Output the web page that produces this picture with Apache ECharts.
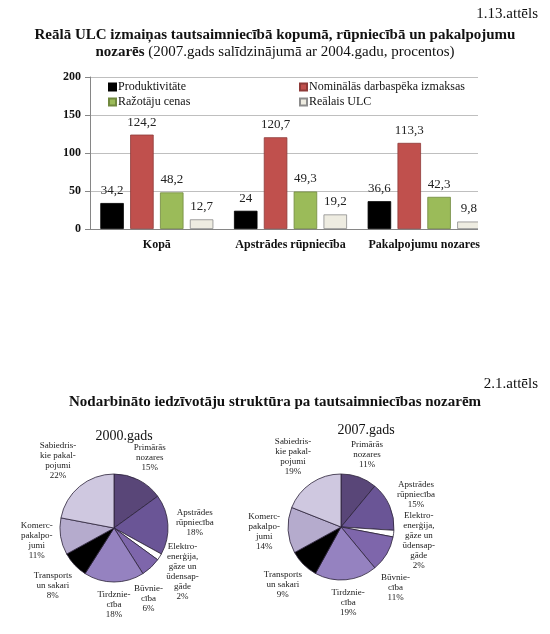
<!DOCTYPE html>
<html><head><meta charset="utf-8">
<script src="https://cdn.jsdelivr.net/npm/echarts@6/dist/echarts.min.js"></script>
<style>html,body{margin:0;padding:0;background:#fff}#c{width:550px;height:634px}</style>
</head><body><div id="c"></div>
<script>
const categories = ['Kopā', 'Apstrādes rūpniecība', 'Pakalpojumu nozares'];
const seriesNames = ['Produktivitāte', 'Nominālās darbaspēka izmaksas', 'Ražotāju cenas', 'Reālais ULC'];
const productivity = [34.2, 24, 36.6];
const nominalWages = [124.2, 120.7, 113.3];
const producerPrices = [48.2, 49.3, 42.3];
const realULC = [12.7, 19.2, 9.8];
const yMin = 0, yMax = 200, yStep = 50;
const sectorLabels = [
  'Primārās\nnozares',
  'Apstrādes\nrūpniecība',
  'Elektro-\nenerģija,\ngāze un\nūdensap-\ngāde',
  'Būvnie-\ncība',
  'Tirdznie-\ncība',
  'Transports\nun sakari',
  'Komerc-\npakalpo-\njumi',
  'Sabiedris-\nkie pakal-\npojumi'
];
const share2000 = [15, 18, 2, 6, 18, 8, 11, 22];
const share2007 = [11, 15, 2, 11, 19, 9, 14, 19];

const SERIF = "'Liberation Serif','Times New Roman',serif";
const barColors = ['#000000', '#c0504d', '#9bbb59', '#eeece1'];
const barBorders = ['#000000', '#8e3a38', '#71893f', '#8c8c8c'];
const pieColors = ['#594678', '#6a5596', '#ffffff', '#7e66ab', '#9582c0', '#000000', '#b5abcd', '#cfc8e0'];
const barData = [productivity, nominalWages, producerPrices, realULC];

const chart = echarts.init(document.getElementById('c'), null, {renderer: 'canvas'});

// Label placement: each label box sits just outside the circle along its slice's
// mid-angle; a box that would collide with an earlier one is moved by the smallest
// combination of outward push and small rotation that frees it.
function pieSeries(values, center, radius) {
  const total = values.reduce((a, b) => a + b, 0);
  const mids = [];
  let acc = 0;
  values.forEach(v => { mids.push((acc + v / 2) / total * Math.PI * 2); acc += v; });
  let placed = [];
  const GAP = 8;
  function boxAt(a, extra, w, h) {
    const ux = Math.sin(a), uy = -Math.cos(a);
    const dx = Math.abs(ux) > 1e-6 ? (w / 2) / Math.abs(ux) : Infinity;
    const dy = Math.abs(uy) > 1e-6 ? (h / 2) / Math.abs(uy) : Infinity;
    const dist = radius + GAP + Math.min(dx, dy) + extra;
    return {cx: center[0] + ux * dist, cy: center[1] + uy * dist};
  }
  return {
    type: 'pie',
    center: center,
    radius: radius,
    startAngle: 90,
    clockwise: true,
    avoidLabelOverlap: false,
    animation: false,
    itemStyle: {
      color: p => pieColors[p.dataIndex],
      borderColor: '#2b2238',
      borderWidth: 0.8
    },
    label: {
      show: true,
      position: 'outside',
      formatter: p => p.name + '\n' + p.value + '%',
      fontFamily: SERIF,
      fontSize: 9,
      lineHeight: 10,
      color: '#222'
    },
    labelLine: {show: false},
    labelLayout: function (params) {
      const i = params.dataIndex;
      if (i === 0) placed = [];
      const w = params.labelRect.width, h = params.labelRect.height;
      const hit = (c) => placed.some(b => !(c.cx - w / 2 > b.x2 + 1 || c.cx + w / 2 < b.x1 - 1 || c.cy - h / 2 > b.y2 + 1 || c.cy + h / 2 < b.y1 - 1));
      let best = null, bestCost = Infinity;
      for (let extra = 0; extra <= 60; extra += 1.5) {
        for (let d = -0.5; d <= 0.5001; d += 0.05) {
          const cost = extra + Math.abs(d) * radius;
          if (cost >= bestCost) continue;
          const c = boxAt(mids[i] + d, extra, w, h);
          if (!hit(c)) { best = c; bestCost = cost; }
        }
      }
      if (!best) best = boxAt(mids[i], 0, w, h);
      placed.push({x1: best.cx - w / 2, x2: best.cx + w / 2, y1: best.cy - h / 2, y2: best.cy + h / 2});
      return {x: best.cx, y: best.cy, align: 'center', verticalAlign: 'middle'};
    },
    data: sectorLabels.map((n, i) => ({name: n, value: values[i]}))
  };
}

const option = {
  backgroundColor: '#fff',
  animation: false,
  title: [
    {text: '1.13.attēls', right: 7, top: 2, textStyle: {fontFamily: SERIF, fontSize: 15, fontWeight: 'normal', color: '#111'}},
    {text: 'Reālā ULC izmaiņas tautsaimniecībā kopumā, rūpniecībā un pakalpojumu', left: 'center', top: 23,
      textStyle: {fontFamily: SERIF, fontSize: 15, fontWeight: 'bold', color: '#111'}},
    {text: '{b|nozarēs} (2007.gads salīdzinājumā ar 2004.gadu, procentos)', left: 'center', top: 40,
      textStyle: {fontFamily: SERIF, fontSize: 15, fontWeight: 'normal', color: '#111',
        rich: {b: {fontFamily: SERIF, fontSize: 15, fontWeight: 'bold', color: '#111'}}}},
    {text: '2.1.attēls', right: 7, top: 372, textStyle: {fontFamily: SERIF, fontSize: 15, fontWeight: 'normal', color: '#111'}},
    {text: 'Nodarbināto iedzīvotāju struktūra pa tautsaimniecības nozarēm', left: 'center', top: 390,
      textStyle: {fontFamily: SERIF, fontSize: 15, fontWeight: 'bold', color: '#111'}},
    {text: '2000.gads', left: 119, textAlign: 'center', top: 424, textStyle: {fontFamily: SERIF, fontSize: 14, fontWeight: 'normal', color: '#111'}},
    {text: '2007.gads', left: 361, textAlign: 'center', top: 418, textStyle: {fontFamily: SERIF, fontSize: 14, fontWeight: 'normal', color: '#111'}}
  ],
  legend: [
    {data: [seriesNames[0], seriesNames[2]], orient: 'vertical', left: 103, top: 76, itemWidth: 7, itemHeight: 7, itemGap: 3,
      icon: 'rect', textStyle: {fontFamily: SERIF, fontSize: 12, color: '#111', padding: [0, 0, 0, -3]}},
    {data: [seriesNames[1], seriesNames[3]], orient: 'vertical', left: 294, top: 76, itemWidth: 7, itemHeight: 7, itemGap: 3,
      icon: 'rect', textStyle: {fontFamily: SERIF, fontSize: 12, color: '#111', padding: [0, 0, 0, -3]}}
  ],
  grid: {left: 90, top: 77, width: 401, height: 152, containLabel: false},
  xAxis: {
    type: 'category', data: categories,
    axisLine: {lineStyle: {color: '#868686'}},
    axisTick: {show: false},
    axisLabel: {interval: 0, fontFamily: SERIF, fontSize: 12, fontWeight: 'bold', color: '#111', margin: 10}
  },
  yAxis: {
    type: 'value', min: yMin, max: yMax, interval: yStep,
    axisLine: {show: true, lineStyle: {color: '#868686'}},
    axisTick: {show: true, length: 5, lineStyle: {color: '#868686'}},
    splitLine: {lineStyle: {color: '#bfbfbf'}},
    axisLabel: {fontFamily: SERIF, fontSize: 12, fontWeight: 'bold', color: '#111', margin: 9}
  },
  // the reference picture is cropped just right of the last bar group
  graphic: [{type: 'rect', right: 0, top: 60, shape: {width: 72, height: 172}, style: {fill: '#fff'}, z: 100}],
  series: seriesNames.map((name, i) => ({
    name: name, type: 'bar', data: barData[i],
    barWidth: 23.5, barGap: '27%',
    itemStyle: {color: barColors[i], borderColor: barBorders[i], borderWidth: 0.8},
    label: {show: true, position: 'top', distance: 6, fontFamily: SERIF, fontSize: 13, color: '#222',
      formatter: p => String(p.value).replace('.', ',')}
  })).concat([
    pieSeries(share2000, [114, 528], 54),
    pieSeries(share2007, [341, 527], 53)
  ])
};
chart.setOption(option);
</script>
</body></html>
